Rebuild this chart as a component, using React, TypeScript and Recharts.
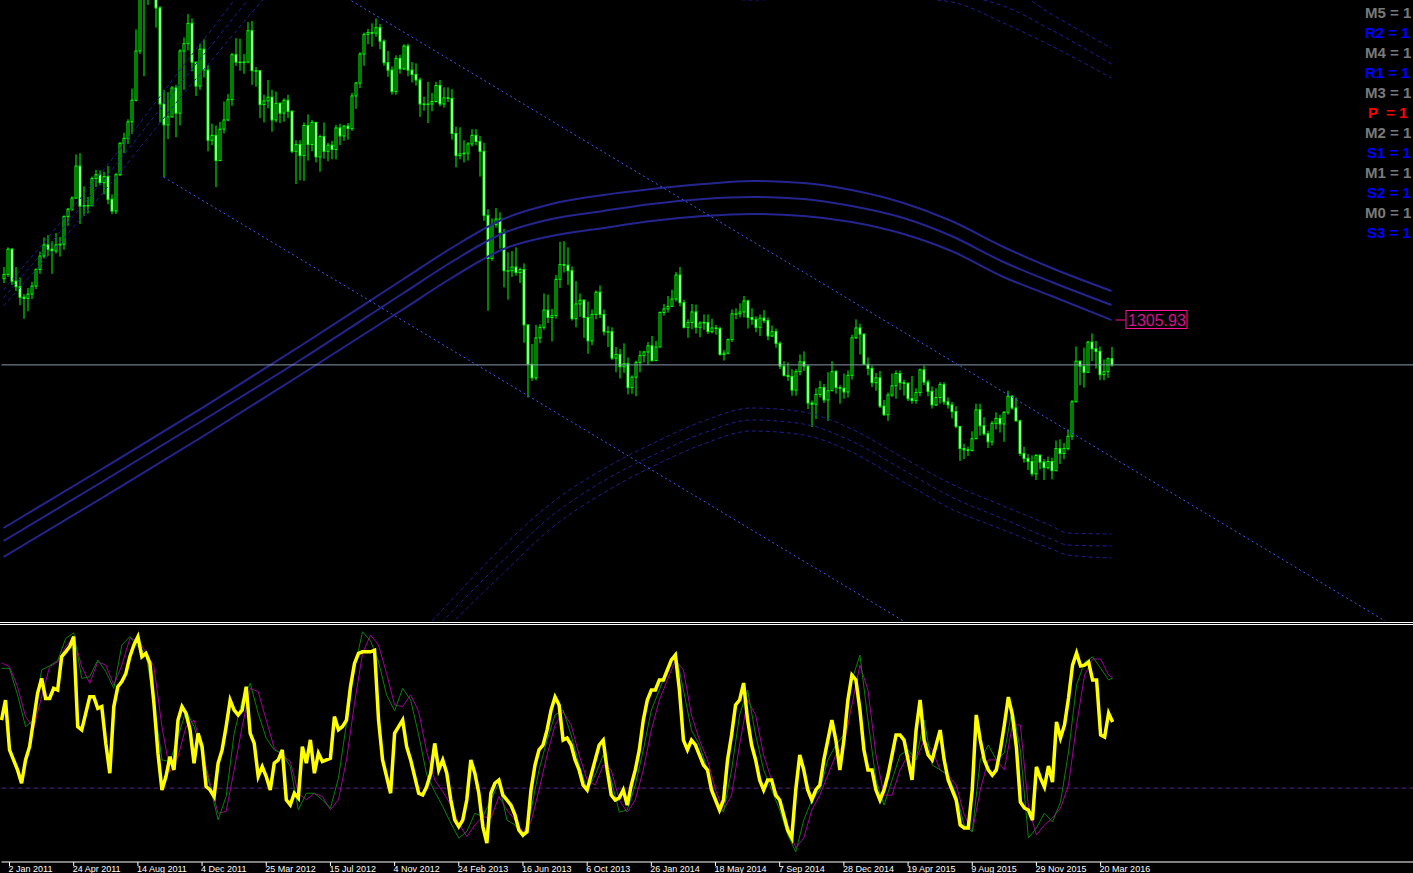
import React from "react";
import { ComposedChart, Bar, Line, XAxis, YAxis, ReferenceLine, ReferenceDot } from "recharts";

// weekly XAUUSD candles, Dec 2010 .. Apr 2016 (open = previous close)
const firstOpen = 1373;
const closes = [
  1380, 1421, 1369, 1360, 1343, 1341, 1348, 1361, 1388, 1410,
  1428, 1421, 1418, 1428, 1429, 1474, 1486, 1504, 1556, 1491,
  1492, 1492, 1536, 1542, 1529, 1539, 1502, 1483, 1542, 1593,
  1601, 1628, 1663, 1743, 1852, 1828, 1877, 1855, 1813, 1657,
  1623, 1636, 1683, 1642, 1743, 1755, 1788, 1725, 1686, 1746,
  1712, 1598, 1606, 1565, 1616, 1631, 1664, 1737, 1725, 1725,
  1725, 1776, 1711, 1711, 1656, 1662, 1668, 1631, 1658, 1642,
  1663, 1645, 1580, 1591, 1573, 1622, 1591, 1627, 1571, 1604,
  1580, 1590, 1583, 1618, 1605, 1621, 1617, 1670, 1691, 1738,
  1770, 1773, 1772, 1781, 1759, 1724, 1712, 1677, 1731, 1714,
  1751, 1712, 1705, 1696, 1657, 1656, 1657, 1661, 1687, 1657,
  1667, 1666, 1609, 1573, 1576, 1577, 1592, 1606, 1596, 1580,
  1476, 1406, 1461, 1470, 1448, 1386, 1386, 1392, 1383, 1388,
  1298, 1234, 1212, 1277, 1294, 1322, 1310, 1313, 1372, 1396,
  1395, 1386, 1308, 1332, 1338, 1310, 1272, 1315, 1351, 1315,
  1287, 1287, 1244, 1250, 1230, 1235, 1196, 1213, 1237, 1248,
  1254, 1264, 1240, 1262, 1318, 1324, 1328, 1340, 1379, 1334,
  1294, 1302, 1319, 1294, 1301, 1302, 1287, 1293, 1292, 1250,
  1252, 1274, 1316, 1316, 1319, 1337, 1310, 1307, 1294, 1309,
  1305, 1280, 1287, 1268, 1231, 1216, 1214, 1192, 1222, 1238,
  1231, 1171, 1169, 1185, 1196, 1176, 1191, 1222, 1196, 1195,
  1189, 1216, 1277, 1293, 1283, 1234, 1227, 1204, 1212, 1166,
  1152, 1184, 1199, 1219, 1204, 1203, 1178, 1175, 1188, 1225,
  1205, 1190, 1168, 1180, 1201, 1173, 1168, 1157, 1133, 1097,
  1095, 1094, 1113, 1160, 1134, 1121, 1108, 1138, 1146, 1137,
  1156, 1182, 1163, 1142, 1089, 1081, 1076, 1056, 1086, 1075,
  1066, 1076, 1061, 1097, 1089, 1097, 1117, 1173, 1239, 1231,
  1221, 1270, 1259, 1255, 1217, 1222, 1243, 1233,
];
const highs = [
  1392, 1424, 1423, 1392, 1375, 1348, 1358, 1368, 1390, 1417,
  1440, 1444, 1434, 1447, 1441, 1476, 1488, 1507, 1575, 1577,
  1523, 1506, 1539, 1550, 1549, 1547, 1556, 1510, 1545, 1595,
  1610, 1632, 1682, 1778, 1853, 1913, 1889, 1921, 1862, 1816,
  1680, 1676, 1686, 1688, 1746, 1765, 1803, 1796, 1725, 1755,
  1762, 1720, 1625, 1622, 1628, 1661, 1673, 1740, 1764, 1763,
  1738, 1790, 1792, 1717, 1711, 1672, 1696, 1680, 1677, 1660,
  1666, 1672, 1647, 1598, 1598, 1627, 1640, 1631, 1628, 1607,
  1627, 1594, 1597, 1623, 1625, 1623, 1626, 1675, 1693, 1741,
  1773, 1779, 1788, 1796, 1787, 1762, 1743, 1718, 1736, 1737,
  1754, 1755, 1725, 1723, 1700, 1669, 1693, 1675, 1693, 1696,
  1684, 1684, 1681, 1620, 1619, 1598, 1595, 1616, 1616, 1605,
  1594, 1486, 1471, 1488, 1481, 1454, 1416, 1418, 1424, 1391,
  1398, 1298, 1267, 1298, 1299, 1349, 1347, 1324, 1379, 1433,
  1434, 1424, 1393, 1369, 1349, 1340, 1336, 1323, 1354, 1362,
  1323, 1296, 1294, 1262, 1259, 1268, 1245, 1216, 1240, 1256,
  1256, 1270, 1280, 1272, 1320, 1332, 1345, 1355, 1384, 1392,
  1339, 1307, 1332, 1331, 1304, 1315, 1315, 1308, 1298, 1295,
  1257, 1276, 1323, 1325, 1333, 1345, 1339, 1325, 1312, 1315,
  1322, 1310, 1297, 1292, 1271, 1239, 1237, 1226, 1226, 1250,
  1255, 1233, 1175, 1195, 1207, 1202, 1221, 1239, 1225, 1200,
  1219, 1224, 1282, 1307, 1300, 1284, 1245, 1232, 1220, 1223,
  1176, 1188, 1219, 1224, 1224, 1209, 1205, 1215, 1195, 1227,
  1232, 1209, 1198, 1195, 1205, 1205, 1180, 1173, 1166, 1133,
  1105, 1100, 1125, 1170, 1170, 1148, 1126, 1142, 1156, 1152,
  1158, 1191, 1184, 1180, 1144, 1100, 1088, 1086, 1088, 1088,
  1080, 1084, 1082, 1110, 1112, 1106, 1128, 1176, 1263, 1240,
  1261, 1272, 1284, 1272, 1263, 1242, 1245, 1262,
];
const lows = [
  1366, 1376, 1363, 1353, 1330, 1308, 1320, 1340, 1356, 1381,
  1406, 1410, 1381, 1414, 1409, 1420, 1459, 1483, 1503, 1462,
  1475, 1479, 1490, 1522, 1525, 1510, 1494, 1478, 1478, 1540,
  1577, 1592, 1608, 1661, 1738, 1702, 1818, 1843, 1781, 1627,
  1538, 1600, 1635, 1603, 1622, 1680, 1744, 1710, 1670, 1680,
  1700, 1580, 1590, 1522, 1564, 1609, 1629, 1654, 1719, 1711,
  1706, 1723, 1688, 1685, 1634, 1627, 1650, 1612, 1627, 1626,
  1628, 1634, 1577, 1527, 1533, 1532, 1565, 1580, 1562, 1547,
  1568, 1564, 1567, 1567, 1590, 1597, 1599, 1613, 1649, 1683,
  1719, 1754, 1750, 1766, 1746, 1719, 1701, 1672, 1672, 1706,
  1712, 1702, 1692, 1687, 1636, 1646, 1626, 1645, 1659, 1653,
  1651, 1660, 1599, 1554, 1567, 1562, 1565, 1588, 1590, 1539,
  1467, 1321, 1402, 1456, 1422, 1359, 1339, 1376, 1378, 1366,
  1269, 1180, 1207, 1208, 1268, 1290, 1301, 1271, 1308, 1358,
  1383, 1363, 1305, 1294, 1311, 1277, 1251, 1265, 1307, 1309,
  1281, 1262, 1241, 1221, 1211, 1220, 1185, 1186, 1182, 1221,
  1237, 1233, 1238, 1240, 1262, 1313, 1318, 1328, 1336, 1328,
  1292, 1277, 1291, 1284, 1278, 1290, 1283, 1284, 1282, 1248,
  1240, 1250, 1270, 1307, 1310, 1310, 1292, 1298, 1286, 1280,
  1301, 1273, 1278, 1261, 1226, 1214, 1207, 1183, 1183, 1216,
  1223, 1161, 1132, 1145, 1180, 1171, 1142, 1190, 1186, 1170,
  1178, 1180, 1209, 1275, 1250, 1233, 1216, 1197, 1191, 1163,
  1150, 1142, 1181, 1178, 1192, 1183, 1174, 1170, 1170, 1182,
  1200, 1182, 1162, 1166, 1170, 1168, 1162, 1146, 1130, 1077,
  1080, 1085, 1092, 1112, 1118, 1118, 1098, 1102, 1128, 1123,
  1108, 1152, 1160, 1141, 1085, 1074, 1062, 1052, 1046, 1063,
  1046, 1063, 1047, 1061, 1072, 1080, 1094, 1111, 1172, 1200,
  1196, 1220, 1239, 1227, 1208, 1208, 1212, 1230,
];

// regression channel (solid) and its dotted envelopes, sampled at bar indexes
const bandIdx = [0, 25, 50, 75, 100, 112, 125, 137, 150, 162, 175, 187, 200, 212, 225, 237, 250, 262, 277];
const bandTop = [967.9, 1065.4, 1164.5, 1266.9, 1372.5, 1422.9, 1470.1, 1494.4, 1509.1, 1518.8, 1526.9, 1531.8, 1528.6, 1517.2, 1496.1, 1466.8, 1424.6, 1390.4, 1353.1];
const bandMid = [946.8, 1044.3, 1143.4, 1244.2, 1349.8, 1400.2, 1447.3, 1470.1, 1483.1, 1494.4, 1502.6, 1505.8, 1502.6, 1491.2, 1471.7, 1442.4, 1400.2, 1367.7, 1330.3];
const bandBot = [920.8, 1018.3, 1117.4, 1219.8, 1323.8, 1374.2, 1421.3, 1442.4, 1455.4, 1466.8, 1474.9, 1478.2, 1474.9, 1465.2, 1445.7, 1418.0, 1375.8, 1344.9, 1305.93];

const lowIdx = [100, 112, 125, 137, 150, 162, 175, 187, 200, 212, 225, 237, 250, 262, 266, 277];
const lowTop = [766.4, 850.9, 938.7, 1008.5, 1063.8, 1104.4, 1141.8, 1162.9, 1156.4, 1128.8, 1081.7, 1039.4, 1003.7, 971.2, 959.8, 958.2];
const lowMid = [747.0, 831.4, 915.9, 987.4, 1044.3, 1084.9, 1122.3, 1143.4, 1136.9, 1109.3, 1062.2, 1018.3, 982.6, 950.0, 940.3, 938.7];
const lowBot = [727.4, 811.9, 894.8, 967.9, 1024.8, 1067.0, 1104.4, 1125.6, 1119.0, 1091.4, 1042.7, 998.8, 964.7, 933.8, 924.1, 919.2];

const upIdx = [0, 25, 50, 75, 100, 125, 150, 175, 200, 225, 250, 262, 277];
const upTop = [1354.7, 1549.7, 1760.9, 1955.9, 2037.2, 2020.9, 1955.9, 1907.2, 1890.9, 1874.7, 1850.3, 1802.9, 1747.7];
const upMid = [1341.7, 1533.4, 1736.6, 1923.4, 2004.7, 1988.4, 1923.4, 1874.7, 1861.7, 1845.4, 1816.2, 1777.2, 1721.9];
const upBotIdx = [0, 25, 50, 75, 100, 125, 150, 175, 187, 200, 225, 237, 250, 262, 277];
const upBot = [1328.7, 1513.9, 1712.2, 1890.9, 1972.2, 1947.8, 1882.8, 1834.1, 1825.9, 1829.2, 1829.2, 1822.7, 1788.6, 1751.2, 1699.2];

// hand drawn trend channel (two anchor points each)
const trendUpIdx = [87, 346];
const trendUp = [1824.6, 814.5];
const trendLoIdx = [40, 260];
const trendLo = [1538.3, 680.3];

// oscillator (thick yellow) and its two signal lines
const oscMain = [
  59.2, 67.8, 46.4, 42.1, 37.8, 32.1, 42.1, 47.8, 59.2, 70.7,
  77.1, 68.5, 68.5, 72.8, 72.1, 86.4, 88.5, 90.7, 95, 56.4,
  55, 62.1, 69.2, 69.2, 64.2, 65, 49.2, 36.4, 65, 73.5,
  75.7, 79.2, 86.4, 91.4, 95, 86.4, 87.8, 83.5, 66.4, 45,
  29.2, 35, 43.5, 37.8, 59.2, 65, 62.1, 55, 40.7, 53.5,
  47.8, 30.7, 29.2, 26.4, 40.7, 46.4, 56.4, 67.8, 63.5, 61.4,
  63.5, 73.5, 53.5, 49.2, 35, 39.2, 35, 29.2, 40.7, 42.1,
  46.4, 25, 22.8, 27.8, 25.7, 47.8, 40.7, 50.7, 36.4, 45,
  41.4, 42.1, 42.8, 60.7, 55, 56.4, 59.2, 73.5, 83.5, 87.8,
  88.5, 88.5, 88.5, 89.2, 59.2, 42.1, 35, 27.8, 53.5, 56.4,
  59.2, 47.8, 42.1, 35, 27.8, 27.1, 30.7, 36.4, 49.2, 37.8,
  42.1, 36.4, 25, 16.4, 13.5, 16.4, 25, 42.1, 36.4, 27.8,
  13.5, 6.4, 27.8, 32.1, 33.5, 27.0, 24.9, 22.7, 18.5, 12.0,
  9.9, 11.2, 29.2, 39.9, 46.4, 48.5, 54.9, 63.5, 69.1, 65.7,
  50.6, 51.5, 48.5, 42.1, 37.8, 31.3, 29.2, 35.6, 42.1, 48.5,
  50.6, 37.8, 27.0, 24.9, 25.8, 29.2, 22.7, 31.3, 37.8, 46.4,
  59.2, 67.8, 72.1, 72.1, 76.4, 76.4, 80.7, 85.0, 87.1, 72.1,
  50.6, 46.4, 50.6, 48.5, 44.2, 39.9, 37.8, 29.2, 24.9, 20.6,
  24.9, 42.1, 52.8, 65.7, 67.8, 75.1, 59.2, 48.5, 42.1, 33.5,
  29.2, 33.5, 33.5, 27.0, 24.9, 18.5, 12.0, 8.6, 29.2, 44.2,
  37.8, 29.2, 24.9, 29.2, 31.3, 42.1, 50.6, 59.2, 50.6, 37.8,
  50.6, 67.8, 78.5, 76.4, 63.5, 46.4, 37.8, 37.8, 29.2, 24.9,
  29.2, 35.6, 44.2, 52.8, 52.8, 50.6, 42.1, 33.5, 54.9, 67.8,
  50.6, 44.2, 42.1, 48.5, 54.9, 42.1, 33.5, 29.2, 24.9, 14.2,
  12.9, 12.9, 29.2, 61.4, 50.6, 42.1, 37.8, 35.6, 37.8, 46.4,
  57.1, 69.1, 61.4, 47.6, 24.0, 21.5, 20.6, 16.3, 39.1, 34.3,
  30.5, 39.5, 32.6, 58.4, 51.5, 57.1, 68.7, 82.8, 88.0, 82.4,
  82.8, 84.1, 76.4, 76.4, 52.8, 51.9, 62.2, 58.4,
];
// signal lines are read every second bar, plus the last bar
const sigGreen = [
  81.4, 81.4, 70.0, 56.4, 59.2, 80.7, 82.5, 84.7, 94.2, 96.7, 77.1, 77.8, 85, 80, 72.8, 91.4, 95, 90.7, 87.8,
  66.4, 42.1, 41.4, 52.1, 63.2, 56.4, 45, 30.7, 16.4, 26.4, 53.5, 67.8, 75, 62.1, 51.4, 46.4, 45, 39.2, 20.7, 27.8,
  27.8, 25, 21.4, 34.3, 57.8, 81.4, 97.1, 93.2, 84.2, 70, 63.2, 72.8, 67.8, 52.8, 35.7, 28.5, 22.1, 15, 8.5, 11.4,
  19.2, 17.8, 25, 32.1,
  16.3, 14.2, 8.6, 20.6, 37.8, 50.6, 61.4, 63.5, 52.8, 39.9, 29.2, 35.6, 44.2, 33.5, 19.7, 20.6, 31.3, 46.4, 63.5,
  72.1, 80.7, 88.4, 72.1, 54.9, 48.5, 37.8, 24.9, 19.7, 37.8, 61.4, 72.1, 52.8, 37.8, 29.2, 20.6, 9.9, 2.6, 16.3,
  24.9, 29.2, 42.1, 48.5, 52.8, 76.4, 87.1, 59.2, 33.5, 22.7, 33.5, 44.2, 46.4, 42.1, 59.2, 39.9, 37.8, 35.6, 27.0,
  14.2, 11.2, 42.1, 48.5, 42.1, 45.1, 64.4, 46.4, 8.6, 12.9, 19.3, 15.5, 24.0, 45.5, 74.2, 84.1, 86.3, 81.5, 76.4,
  77.3,
];
const sigPurple = [
  83.8, 82.1, 73.5, 60.7, 55.7, 69.2, 82.1, 84.2, 90.7, 95, 82.1, 75, 84.2, 82.8, 74.2, 82.8, 94.2, 93.5, 88.5,
  82.1, 56.4, 37.1, 43.5, 56.4, 59.2, 46.4, 32.1, 19.2, 20, 37.8, 56.4, 72.8, 71.4, 59.2, 47.1, 44.2, 41.4, 27.8,
  25, 27.8, 26.4, 20.7, 25, 42.1, 66.4, 87.8, 95.7, 91.4, 79.2, 65.7, 65, 70, 62.8, 45.7, 33.5, 28.5, 22.8, 15,
  9.2, 14.2, 17.8, 17.1, 26.4,
  20.6, 16.3, 11.2, 15.5, 29.2, 44.2, 57.1, 62.7, 57.1, 44.2, 33.5, 31.3, 39.9, 37.8, 24.9, 19.7, 24.9, 37.8, 54.9,
  67.8, 76.4, 85.0, 80.7, 61.4, 50.6, 42.1, 29.2, 20.6, 27.0, 48.5, 67.8, 61.4, 44.2, 33.5, 24.9, 14.2, 4.3, 8.6,
  20.6, 27.0, 35.6, 44.2, 48.5, 65.7, 82.8, 72.1, 44.2, 27.0, 27.0, 37.8, 44.2, 42.1, 50.6, 46.4, 37.8, 35.6, 31.3,
  18.5, 11.2, 29.2, 42.1, 42.1, 37.8, 57.1, 57.1, 21.9, 9.9, 14.2, 17.2, 21.5, 31.3, 57.1, 78.5, 85.4, 85.4, 78.5,
  77.3,
];
const oscLevel = 30;

const timeIdx = [2, 18, 34, 50, 66, 82, 98, 114, 130, 146, 162, 178, 194, 210, 226, 242, 258, 274];
const timeLabels = [
  "2 Jan 2011", "24 Apr 2011", "14 Aug 2011", "4 Dec 2011", "25 Mar 2012", "15 Jul 2012",
  "4 Nov 2012", "24 Feb 2013", "16 Jun 2013", "6 Oct 2013", "26 Jan 2014", "18 May 2014",
  "7 Sep 2014", "28 Dec 2014", "19 Apr 2015", "9 Aug 2015", "29 Nov 2015", "20 Mar 2016",
];

const pivotNames = ["M5", "R2", "M4", "R1", "M3", "P ", "M2", "S1", "M1", "S2", "M0", "S3"];
const pivotColors = ["#7a7a7a", "#0000ff", "#7a7a7a", "#0000ff", "#7a7a7a", "#ff0000", "#7a7a7a", "#0000ff", "#7a7a7a", "#0000ff", "#7a7a7a", "#0000ff"];

const SLOTS = 353;
const P_MAX = 1825.93;
const P_MIN = 816.8;

const rows: any[] = Array.from({ length: SLOTS }, (_, i) => ({ i }));
closes.forEach((c, i) => {
  const o = i === 0 ? firstOpen : closes[i - 1];
  rows[i].o = o;
  rows[i].c = c;
  rows[i].range = [Math.min(lows[i], o, c), Math.max(highs[i], o, c)];
  rows[i].osc = oscMain[i];
});
const put = (key: string, idx: number[], vals: number[]) =>
  idx.forEach((k, j) => {
    rows[k][key] = vals[j];
  });
put("bT", bandIdx, bandTop);
put("bM", bandIdx, bandMid);
put("bB", bandIdx, bandBot);
put("lT", lowIdx, lowTop);
put("lM", lowIdx, lowMid);
put("lB", lowIdx, lowBot);
put("uT", upIdx, upTop);
put("uM", upIdx, upMid);
put("uB", upBotIdx, upBot);
put("tU", trendUpIdx, trendUp);
put("tL", trendLoIdx, trendLo);
const sigIdx = closes.map((_, i) => i).filter((i) => i % 2 === 0).concat(closes.length - 1);
put("g", sigIdx, sigGreen);
put("m", sigIdx, sigPurple);

const Candle = (p: any) => {
  const { x, y, width, height, payload } = p;
  if (!payload || payload.c == null) return null;
  const [lo, hi] = payload.range;
  const span = hi - lo || 1;
  const py = (v: number) => y + ((hi - v) / span) * height;
  const cx = x + width / 2;
  const top = py(Math.max(payload.o, payload.c));
  const bot = py(Math.min(payload.o, payload.c));
  const bear = payload.c < payload.o;
  return (
    <g>
      <line x1={cx} x2={cx} y1={y} y2={y + height} stroke="#00ff00" strokeWidth={1} />
      <rect x={cx - 1} y={top} width={2} height={Math.max(bot - top, 0.5)} fill={bear ? "#ffffff" : "#000000"} stroke="#00ff00" strokeWidth={1} />
    </g>
  );
};

const tagValue = bandBot[bandBot.length - 1];
const PriceTag = (p: any) => {
  const { cx, cy } = p;
  return (
    <g>
      <line x1={cx} x2={cx + 10} y1={cy} y2={cy} stroke="#ff1493" />
      <rect x={cx + 10.5} y={cy - 9.5} width={61} height={18} fill="#000" stroke="#ff1493" />
      <text x={cx + 12.5} y={cy + 6.5} fontSize={16} fontFamily="'Liberation Sans', Arial" fill="#d0148c">
        {tagValue.toFixed(2)}
      </text>
    </g>
  );
};

const TimeTick = (p: any) => {
  const { x, y, payload } = p;
  const j = timeIdx.indexOf(payload.value);
  if (j < 0) return null;
  return (
    <g>
      <line x1={x} x2={x} y1={y} y2={y + 4} stroke="#ffffff" />
      <text x={x - 1} y={y + 9.5} fontSize={9} fontFamily="'Liberation Sans', Arial" fill="#ffffff">
        {timeLabels[j]}
      </text>
    </g>
  );
};

const lineProps = { dot: false, activeDot: false, connectNulls: true, isAnimationActive: false, legendType: "none" as const };

export default function App() {
  return (
    <div style={{ position: "absolute", left: 0, top: 0, width: 1413, height: 873, background: "#000", overflow: "hidden" }}>
      <div style={{ position: "absolute", left: 0, top: 0 }}>
        <ComposedChart width={1414} height={621} data={rows} margin={{ top: 0, right: 0.5, left: 1.5, bottom: 0 }}>
          <XAxis dataKey="i" type="category" hide />
          <YAxis hide type="number" domain={[P_MIN, P_MAX]} allowDataOverflow />
          <Line dataKey="uT" type="monotone" stroke="#1e1e90" strokeDasharray="4 3" strokeWidth={1} {...lineProps} />
          <Line dataKey="uM" type="monotone" stroke="#1e1e90" strokeDasharray="4 3" strokeWidth={1} {...lineProps} />
          <Line dataKey="uB" type="monotone" stroke="#1e1e90" strokeDasharray="4 3" strokeWidth={1} {...lineProps} />
          <Line dataKey="lT" type="monotone" stroke="#1e1e90" strokeDasharray="4 3" strokeWidth={1} {...lineProps} />
          <Line dataKey="lM" type="monotone" stroke="#1e1e90" strokeDasharray="4 3" strokeWidth={1} {...lineProps} />
          <Line dataKey="lB" type="monotone" stroke="#1e1e90" strokeDasharray="4 3" strokeWidth={1} {...lineProps} />
          <Line dataKey="bT" type="monotone" stroke="#25258f" strokeWidth={2} {...lineProps} />
          <Line dataKey="bM" type="monotone" stroke="#25258f" strokeWidth={2} {...lineProps} />
          <Line dataKey="bB" type="monotone" stroke="#25258f" strokeWidth={2} {...lineProps} />
          <ReferenceLine y={closes[closes.length - 1]} stroke="#8898a8" strokeWidth={1} />
          <Bar dataKey="range" barSize={3} shape={<Candle />} isAnimationActive={false} />
          <Line dataKey="tU" type="linear" stroke="#3a5cff" strokeDasharray="2 3" strokeWidth={1} {...lineProps} />
          <Line dataKey="tL" type="linear" stroke="#3a5cff" strokeDasharray="2 3" strokeWidth={1} {...lineProps} />
          <ReferenceDot x={278} y={tagValue} r={0} shape={<PriceTag />} ifOverflow="visible" />
        </ComposedChart>
      </div>

      <div style={{ position: "absolute", left: 0, top: 622, width: 1413, height: 1, background: "#fff" }} />
      <div style={{ position: "absolute", left: 0, top: 624, width: 1413, height: 1, background: "#fff" }} />

      <div style={{ position: "absolute", left: 0, top: 623 }}>
        <ComposedChart width={1414} height={250} data={rows} margin={{ top: 2, right: 0.5, left: 1.5, bottom: 0 }}>
          <XAxis
            dataKey="i"
            type="category"
            height={11}
            interval={0}
            tickSize={0}
            tickMargin={0}
            tickLine={false}
            axisLine={{ stroke: "#ffffff" }}
            tick={<TimeTick />}
          />
          <YAxis hide type="number" domain={[-1.7, 100]} allowDataOverflow />
          <ReferenceLine y={oscLevel} stroke="#5a2088" strokeDasharray="5 3" />
          <Line dataKey="m" type="linear" stroke="#a000a0" strokeWidth={1} {...lineProps} />
          <Line dataKey="g" type="linear" stroke="#0a820a" strokeWidth={1} {...lineProps} />
          <Line dataKey="osc" type="linear" stroke="#ffff00" strokeWidth={3.5} {...lineProps} />
        </ComposedChart>
      </div>

      {pivotNames.map((n, j) => (
        <div
          key={n}
          style={{
            position: "absolute",
            left: n.startsWith("S") ? 1367 : n.startsWith("P") ? 1368 : 1365,
            top: 4 + j * 20,
            font: "bold 15px 'Liberation Sans', Arial",
            lineHeight: "17px",
            color: pivotColors[j],
            whiteSpace: "pre",
          }}
        >
          {`${n} = 1`}
        </div>
      ))}
    </div>
  );
}
